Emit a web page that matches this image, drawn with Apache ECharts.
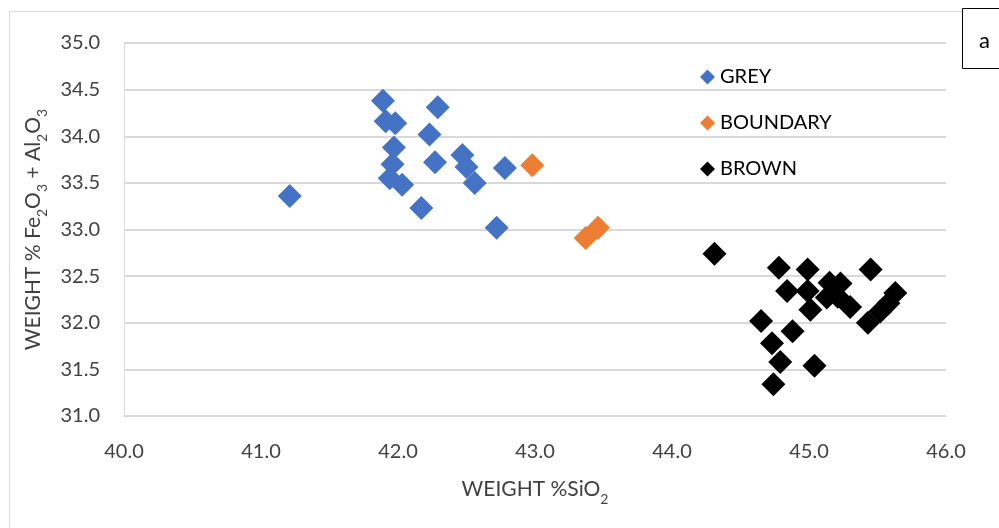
<!DOCTYPE html>
<html>
<head>
<meta charset="utf-8">
<script src="https://cdn.jsdelivr.net/npm/echarts@6/dist/echarts.min.js"></script>
<style>
  html, body { margin: 0; padding: 0; background: #fff; }
  #chart { width: 999px; height: 528px; }
</style>
</head>
<body>
<div id="chart"></div>
<script>
// SiO2 (x) against Fe2O3 + Al2O3 (y), weight percent
const greyX = [41.21, 41.89, 41.91, 41.98, 41.97, 41.96, 41.94, 42.03, 42.17, 42.23, 42.29, 42.27, 42.47, 42.50, 42.56, 42.72, 42.78];
const greyY = [33.36, 34.38, 34.16, 34.14, 33.88, 33.70, 33.55, 33.48, 33.23, 34.02, 34.31, 33.72, 33.80, 33.67, 33.50, 33.02, 33.66];

const boundaryX = [42.98, 43.37, 43.46];
const boundaryY = [33.69, 32.91, 33.02];

const brownX = [44.31, 44.78, 44.99, 45.45, 44.84, 44.99, 45.15, 45.23, 45.13, 45.21, 45.30, 45.01, 45.63, 45.58, 45.52, 45.43, 44.65, 44.88, 44.73, 44.79, 45.04, 44.74];
const brownY = [32.74, 32.59, 32.57, 32.57, 32.34, 32.34, 32.43, 32.42, 32.27, 32.28, 32.17, 32.14, 32.32, 32.21, 32.12, 32.00, 32.02, 31.91, 31.78, 31.58, 31.54, 31.34];

const seriesNames = ['GREY', 'BOUNDARY', 'BROWN'];
const seriesColors = ['#4472C4', '#ED7D31', '#000000'];

const xMin = 40, xMax = 46, xStep = 1;
const yMin = 31, yMax = 35, yStep = 0.5;

const zip = (xs, ys) => xs.map((x, i) => [x, ys[i]]);
const groups = [zip(greyX, greyY), zip(boundaryX, boundaryY), zip(brownX, brownY)];

const FONT = 'Lato';
const TEXT = '#404040';

const chart = echarts.init(document.getElementById('chart'), null, { renderer: 'canvas' });

chart.setOption({
  animation: false,
  backgroundColor: '#ffffff',
  textStyle: { fontFamily: FONT },
  grid: { left: 124, right: 53, top: 43, bottom: 112, containLabel: false },
  legend: {
    orient: 'vertical',
    left: 695,
    top: 62,
    padding: 5,
    itemWidth: 15,
    itemHeight: 15,
    itemGap: 26,
    icon: 'diamond',
    textStyle: { fontFamily: FONT, fontSize: 20, lineHeight: 16, color: '#000' },
    data: seriesNames
  },
  xAxis: {
    type: 'value',
    min: xMin, max: xMax, interval: xStep,
    axisLine: { show: true, lineStyle: { color: '#d9d9d9', width: 1 } },
    axisTick: { show: false },
    splitLine: { show: false },
    axisLabel: {
      margin: 26, fontSize: 20, color: TEXT, fontFamily: FONT,
      formatter: v => v.toFixed(1)
    },
    name: '{b|WEIGHT %SiO}{s|2}',
    nameLocation: 'middle',
    nameGap: 58,
    nameTextStyle: {
      rich: {
        b: { fontSize: 21, color: TEXT, fontFamily: FONT, verticalAlign: 'bottom', lineHeight: 26 },
        s: { fontSize: 14, color: TEXT, fontFamily: FONT, verticalAlign: 'bottom', lineHeight: 26, padding: [0, 0, -6, 0] }
      }
    }
  },
  yAxis: {
    type: 'value',
    min: yMin, max: yMax, interval: yStep,
    axisLine: { show: true, lineStyle: { color: '#d9d9d9', width: 1 } },
    axisTick: { show: false },
    splitLine: { show: true, lineStyle: { color: '#d9d9d9', width: 2 } },
    axisLabel: {
      margin: 24, fontSize: 20, color: TEXT, fontFamily: FONT,
      formatter: v => v.toFixed(1)
    },
    name: '{b|WEIGHT % Fe}{s|2}{b|O}{s|3}{b| + Al}{s|2}{b|O}{s|3}',
    nameLocation: 'middle',
    nameRotate: 90,
    nameGap: 79,
    nameTextStyle: {
      rich: {
        b: { fontSize: 21, color: TEXT, fontFamily: FONT, verticalAlign: 'bottom', lineHeight: 26 },
        s: { fontSize: 14, color: TEXT, fontFamily: FONT, verticalAlign: 'bottom', lineHeight: 26, padding: [0, 0, -6, 0] }
      }
    }
  },
  series: groups.map((data, i) => ({
    name: seriesNames[i],
    type: 'scatter',
    symbol: 'diamond',
    symbolSize: 24,
    itemStyle: { color: seriesColors[i], opacity: 1 },
    data: data
  })),
  graphic: [
    {
      type: 'rect',
      left: 7, top: 9,
      shape: { width: 1100, height: 600 },
      style: { fill: 'none', stroke: '#d9d9d9', lineWidth: 1 },
      silent: true, z: -10
    },
    {
      type: 'rect',
      left: 962, top: 8,
      shape: { width: 60, height: 60 },
      style: { fill: '#ffffff', stroke: '#000000', lineWidth: 1 },
      silent: true, z: 10
    },
    {
      type: 'text',
      left: 979, top: 30,
      style: { text: 'a', fontSize: 22, fontFamily: FONT, fill: '#000' },
      silent: true, z: 11
    }
  ]
});
</script>
</body>
</html>
